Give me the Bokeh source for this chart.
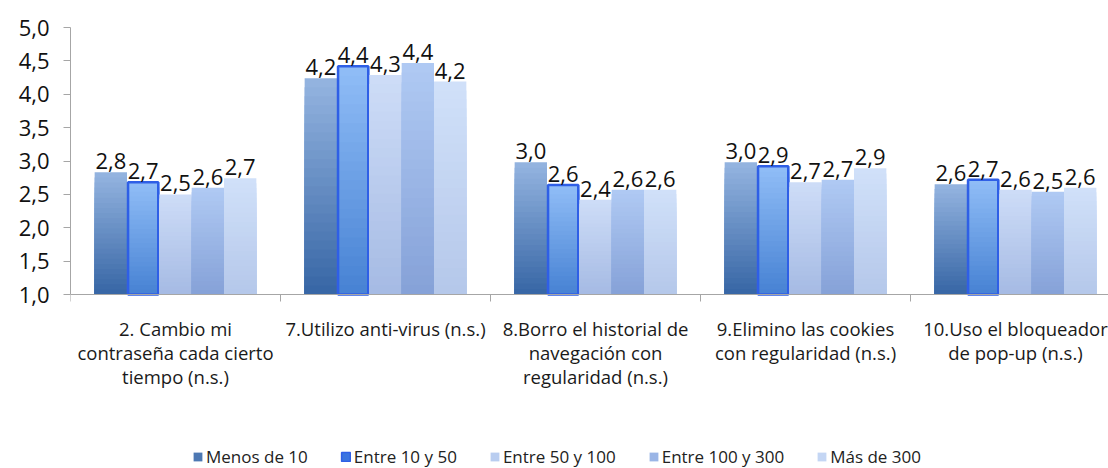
from bokeh.plotting import figure
from bokeh.models import Range1d, FixedTicker, Legend, LegendItem, ColumnDataSource, Span
from bokeh.core.properties import value
from bokeh.embed import file_html
from bokeh.resources import INLINE

categories = [
    "2. Cambio mi\ncontraseña cada cierto\ntiempo (n.s.)",
    "7.Utilizo anti-virus (n.s.)",
    "8.Borro el historial de\nnavegación con\nregularidad (n.s.)",
    "9.Elimino las cookies\ncon regularidad (n.s.)",
    "10.Uso el bloqueador\nde pop-up (n.s.)",
]
series_names = ["Menos de 10", "Entre 10 y 50", "Entre 50 y 100", "Entre 100 y 300", "Más de 300"]
menos_10 = [2.83, 4.24, 2.98, 2.98, 2.65]
entre_10_50 = [2.68, 4.42, 2.64, 2.92, 2.72]
entre_50_100 = [2.50, 4.29, 2.42, 2.68, 2.57]
entre_100_300 = [2.60, 4.47, 2.57, 2.72, 2.54]
mas_300 = [2.74, 4.19, 2.57, 2.89, 2.60]
value_labels = [
    ["2,8", "4,2", "3,0", "3,0", "2,6"],
    ["2,7", "4,4", "2,6", "2,9", "2,7"],
    ["2,5", "4,3", "2,4", "2,7", "2,6"],
    ["2,6", "4,4", "2,6", "2,7", "2,5"],
    ["2,7", "4,2", "2,6", "2,9", "2,6"],
]
y_ticks = [1.0, 1.5, 2.0, 2.5, 3.0, 3.5, 4.0, 4.5, 5.0]
y_tick_labels = ["1,0", "1,5", "2,0", "2,5", "3,0", "3,5", "4,0", "4,5", "5,0"]

series = [menos_10, entre_10_50, entre_50_100, entre_100_300, mas_300]
# (top colour, bottom colour) of each series' gradient
grad = [
    ("#93b3df", "#3867a6"),
    ("#8fbcf6", "#4883d4"),
    ("#cddcf7", "#a6bbe4"),
    ("#afc9f3", "#86a2d8"),
    ("#d0e0f9", "#b5c8ea"),
]
legend_colors = ["#4d78b3", "#3a74e0", "#b9cdf0", "#9ab5e6", "#c4d6f4"]

BASE = 1.0
BAR_W = 0.154
FONT = "Open Sans"
AXIS_GREY = "#a6a6a6"
PX_PER_UNIT = 267 / 4.0          # vertical scale: 5,0 at y=27, 1,0 at y=294
TICK_LEN = 7 / PX_PER_UNIT
CAT_PX = 210.0                    # width of one category in pixels

W, H = 1108, 468
LEFT, TOP = 70, 27
p = figure(width=W, height=H, output_backend="svg", toolbar_location=None,
           x_range=Range1d(0, (W - LEFT) / CAT_PX),
           y_range=Range1d(5.0 - (H - TOP) / PX_PER_UNIT, 5.0),
           x_axis_type=None,
           min_border_left=LEFT, min_border_right=0, min_border_top=TOP, min_border_bottom=0)
p.outline_line_color = None
p.grid.visible = False
p.background_fill_color = "white"
p.border_fill_color = "white"


def hex2rgb(h):
    h = h.lstrip("#")
    return tuple(int(h[i:i + 2], 16) for i in (0, 2, 4))


def mix(c1, c2, t):
    a, b = hex2rgb(c1), hex2rgb(c2)
    return "#%02x%02x%02x" % tuple(int(round(a[i] + (b[i] - a[i]) * t)) for i in range(3))


K = 24
legend_items = []
for j, vals in enumerate(series):
    xs = [i + 0.5 + (j - 2) * BAR_W for i in range(len(categories))]
    top_c, bot_c = grad[j]
    for k in range(K):
        frac = (K - k) / K
        tops = [BASE + (v - BASE) * frac for v in vals]
        p.vbar(x=xs, top=tops, bottom=BASE, width=BAR_W, fill_color=mix(top_c, bot_c, k / (K - 1)),
               line_color=None)
    if j == 1:
        p.vbar(x=xs, top=vals, bottom=BASE, width=BAR_W - 0.01, fill_alpha=0,
               line_color="#2f5fe6", line_width=2.5)
    proxy = p.rect(x=[-10], y=[-10], width=1, height=1, fill_color=legend_colors[j],
                   line_color="#2f5fe6" if j == 1 else None, line_width=1.5)
    legend_items.append(LegendItem(label=series_names[j], renderers=[proxy]))
    src = ColumnDataSource(dict(x=xs, y=vals, t=value_labels[j]))
    p.text(x="x", y="y", text="t", source=src, text_align="center", text_baseline="bottom",
           y_offset=-3, text_font=value(FONT), text_font_size="22px", text_color="#111111")

# y axis (line limited to 1..5)
p.yaxis.ticker = FixedTicker(ticks=y_ticks)
p.yaxis.bounds = (1.0, 5.0)
p.yaxis.major_label_overrides = {t: l for t, l in zip(y_ticks, y_tick_labels)}
p.yaxis.major_label_text_font = FONT
p.yaxis.major_label_text_font_size = "22px"
p.yaxis.major_label_text_color = "#111111"
p.yaxis.major_tick_out = 7
p.yaxis.major_tick_in = 0
p.yaxis.minor_tick_line_color = None
p.yaxis.axis_line_color = AXIS_GREY
p.yaxis.major_tick_line_color = AXIS_GREY
p.yaxis.major_label_standoff = 14

# x axis drawn at y = 1,0 inside the frame
centers = [i + 0.5 for i in range(len(categories))]
bounds = [float(i) for i in range(len(categories) + 1)]
p.add_layout(Span(location=BASE, dimension="width", line_color=AXIS_GREY, line_width=1))
p.segment(x0=bounds, y0=[BASE] * len(bounds), x1=bounds, y1=[BASE - TICK_LEN] * len(bounds),
          line_color=AXIS_GREY, line_width=1)
p.text(x=centers, y=[BASE] * len(centers), text=categories, text_align="center",
       text_baseline="top", y_offset=21, text_font=value(FONT), text_font_size="18.5px",
       text_color="#1a1a1a", text_line_height=0.97)

legend = Legend(items=legend_items, orientation="horizontal", location=(122, 0),
                label_text_font=FONT, label_text_font_size="17px", label_text_color="#222222",
                glyph_width=11, glyph_height=11, label_standoff=3, spacing=32, padding=0, margin=0,
                border_line_color=None, background_fill_alpha=0, label_height=20)
p.add_layout(legend, "center")

open("out.html", "w").write(file_html(p, INLINE))
